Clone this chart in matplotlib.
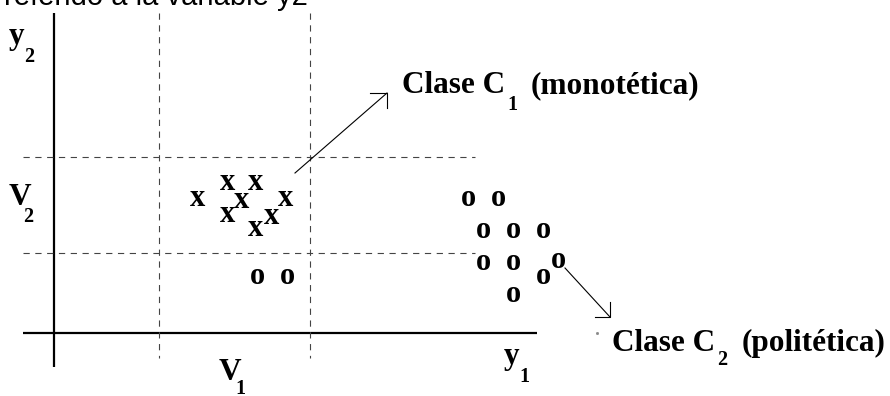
import matplotlib
matplotlib.use("Agg")
import matplotlib.pyplot as plt

# letter markers of the two classes (centre of each letter, diagram units)
c1_x_h = [227, 256, 197, 241, 286, 227, 272, 256]
c1_x_v = [183, 183, 200, 201, 200, 216, 217, 230]
c1_o_h = [257, 287]
c1_o_v = [278, 278]
c2_o_h = [468, 498, 483, 513, 543, 483, 513, 558, 543, 513]
c2_o_v = [199, 199, 231, 231, 231, 263, 263, 262, 278, 295]

# limits of the intervals V1 (on y1) and V2 (on y2)
v1_lim = [159, 310]
v2_lim = [157, 253]

plt.rcParams['lines.scale_dashes'] = False
serif = dict(family=['Liberation Serif', 'DejaVu Serif'], weight='bold', color='black')
mark = 22
big = 22.5
small = 14.5

fig = plt.figure(figsize=(8.9, 3.96), dpi=100)
ax = fig.add_axes([0, 0, 1, 1])
ax.set_xlim(0, 890)
ax.set_ylim(396, 0)
ax.axis('off')

# axes
ax.plot([54, 54], [13, 367], color='black', lw=1.6, solid_capstyle='butt')
ax.plot([23, 537], [333, 333], color='black', lw=1.6, solid_capstyle='butt')

# dashed interval limits
dash = dict(color='#444444', lw=0.8, ls=(0, (4.5, 4)))
for xv in v1_lim:
    ax.plot([xv, xv], [13, 358], **dash)
for yv in v2_lim:
    ax.plot([23, 475], [yv, yv], **dash)

# markers
for x, y in zip(c1_x_h, c1_x_v):
    ax.text(x, y + 6.5, 'x', ha='center', va='baseline', fontsize=mark, **serif)
for x, y in zip(c1_o_h + c2_o_h, c1_o_v + c2_o_v):
    ax.text(x, y + 6.5, 'o', ha='center', va='baseline', fontsize=mark, **serif)

# arrows (line + open corner head)
arrow = dict(color='black', lw=0.8)
ax.plot([295, 387], [173, 93], **arrow)
ax.plot([370, 387, 387], [93, 93, 108], **arrow)
ax.plot([565, 610], [268, 317], **arrow)
ax.plot([610, 610, 595], [302, 317, 317], **arrow)
ax.plot([597], [333], marker='s', ms=1, color='#888888')

fig.canvas.draw()
renderer = fig.canvas.get_renderer()
inv = ax.transData.inverted()


def right_edge(t):
    bb = t.get_window_extent(renderer)
    return inv.transform((bb.x1, bb.y0))[0]


def sub_label(x, y, main, sub, rest='', sub_drop=17, gap=2, gap2=13):
    t = ax.text(x, y, main, ha='left', va='baseline', fontsize=big, **serif)
    xs = right_edge(t) + gap
    s = ax.text(xs, y + sub_drop, sub, ha='left', va='baseline', fontsize=small, **serif)
    if rest:
        xr = right_edge(s) + gap2
        ax.text(xr, y, rest, ha='left', va='baseline', fontsize=big, **serif)


sub_label(402, 93, 'Clase C', '1', '(monotética)')
sub_label(612, 351, 'Clase C', '2', '(politética)', sub_drop=14, gap2=14)
sub_label(9, 44, 'y', '2', sub_drop=18, gap=0)
sub_label(9, 205, 'V', '2', gap=-8)
sub_label(219, 380, 'V', '1', sub_drop=14, gap=-6)
sub_label(504, 364, 'y', '1', sub_drop=18, gap=0)

ax.text(308, 5, 'referido a la variable y2', ha='right', va='baseline',
        fontsize=21, family=['Liberation Sans', 'DejaVu Sans'], color='black')

fig.savefig('out.png', dpi=100)
